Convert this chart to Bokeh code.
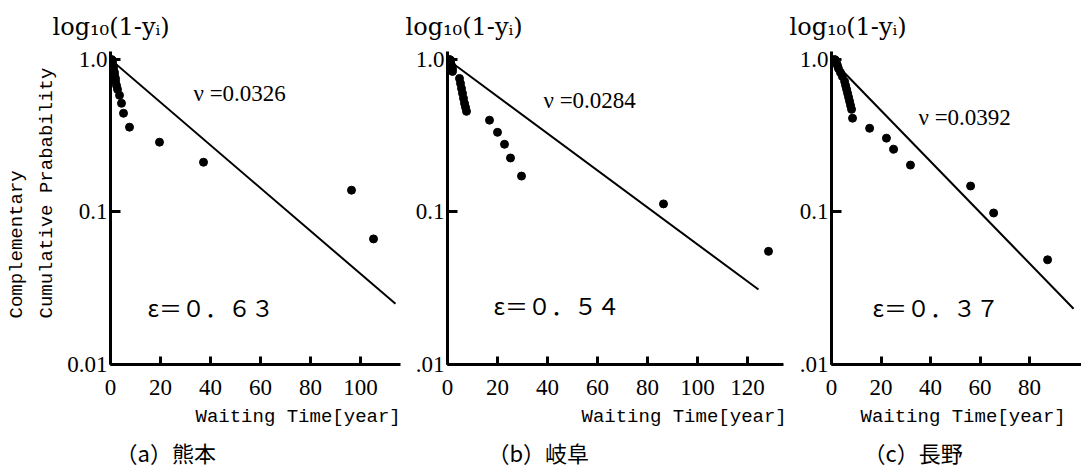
import math
from bokeh.plotting import figure
from bokeh.layouts import row
from bokeh.models import FixedTicker, Label, Title
from bokeh.embed import file_html
from bokeh.resources import INLINE

# ---------------- data ----------------
# (a) Kumamoto
a_t = [0.4, 0.8, 0.8, 1.2, 1.2, 1.6, 1.6, 2.0, 2.0, 2.4, 2.8, 3.6, 4.4, 5.2, 7.6, 19.6, 37.2, 96.4, 105.2]
a_v = [1.0, 0.985, 0.942, 0.900, 0.860, 0.822, 0.786, 0.751, 0.718, 0.676, 0.637, 0.582, 0.516, 0.444,
       0.360, 0.287, 0.212, 0.139, 0.0666]
a_fit_t = [0.0, 114.0]
a_fit_v = [1.0, 0.025]
a_nu = "ν =0.0326"
a_eps = "ε＝０．６３"
a_caption = "（a）熊本"
a_xticks = [0, 20, 40, 60, 80, 100]

# (b) Gifu
b_t = [0.8, 1.2, 1.2, 1.6, 2.0, 2.0, 4.8, 5.2, 5.6, 6.0, 6.4, 6.8, 7.2, 7.6,
       16.8, 20.0, 22.8, 25.2, 29.6, 86.4, 128.4]
b_v = [1.0, 0.99, 0.956, 0.914, 0.873, 0.835, 0.751, 0.697, 0.646, 0.600, 0.556, 0.516, 0.486, 0.457,
       0.400, 0.333, 0.278, 0.226, 0.172, 0.113, 0.0552]
b_fit_t = [0.0, 124.4]
b_fit_v = [1.0, 0.031]
b_nu = "ν =0.0284"
b_eps = "ε＝０．５４"
b_caption = "（b）岐阜"
b_xticks = [0, 20, 40, 60, 80, 100, 120]

# (c) Nagano
c_t = [1.2, 1.6, 2.0, 2.4, 2.8, 3.6, 4.4, 5.3, 5.7, 6.1, 6.5, 6.9, 7.3, 7.7, 8.1, 8.5,
       15.4, 22.2, 25.1, 31.9, 56.2, 65.5, 87.3]
c_v = [1.0, 0.99, 0.956, 0.914, 0.873, 0.822, 0.774, 0.718, 0.676, 0.637, 0.600, 0.565, 0.532, 0.500,
       0.471, 0.412, 0.354, 0.305, 0.258, 0.203, 0.148, 0.0985, 0.0486]
c_fit_t = [0.0, 97.8]
c_fit_v = [1.0, 0.0232]
c_nu = "ν =0.0392"
c_eps = "ε＝０．３７"
c_caption = "（c）長野"
c_xticks = [0, 20, 40, 60, 80]

y_ticks = [0.01, 0.1, 1.0]
y_labels_a = {0.01: "0.01", 0.1: "0.1", 1.0: "1.0"}
y_labels_bc = {0.01: ".01", 0.1: "0.1", 1.0: "1.0"}
x_label = "Waiting Time[year]"
top_label = "log₁₀(1-yᵢ)"
y_label_1 = "Complementary"
y_label_2 = "Cumulative Prabability"

H = 472
TOP = 50
BOTTOM = 108
YMAX = 1.128


def make_panel(t, v, fit_t, fit_v, nu, eps, caption, xticks, ylabels, xmax,
               width, bl, br, nu_pos, eps_pos, cap_off, xl_off, log_off):
    p = figure(width=width, height=H, x_range=(0, xmax), y_range=(0.01, YMAX),
               y_axis_type="log", output_backend="svg", toolbar_location=None,
               title_location=None,
               min_border_left=bl, min_border_right=br, min_border_top=TOP,
               min_border_bottom=BOTTOM)
    p.outline_line_color = None
    p.grid.visible = False
    p.background_fill_color = "white"
    p.border_fill_color = "white"

    for ax in (p.xaxis[0], p.yaxis[0]):
        ax.axis_line_width = 3
        ax.axis_line_color = "black"
        ax.major_tick_line_width = 3
        ax.major_tick_line_color = "black"
        ax.major_tick_out = 0
        ax.minor_tick_line_color = None
        ax.major_label_text_font = "Liberation Serif"
        ax.major_label_text_font_size = "23px"
        ax.major_label_text_color = "black"
    p.xaxis[0].ticker = FixedTicker(ticks=xticks)
    p.xaxis[0].major_tick_in = 8
    p.xaxis[0].major_label_standoff = 15
    p.yaxis[0].ticker = FixedTicker(ticks=y_ticks)
    p.yaxis[0].major_label_overrides = ylabels
    p.yaxis[0].major_tick_in = 10
    p.yaxis[0].major_label_standoff = 3

    p.line(fit_t, fit_v, line_width=2, line_color="black")
    p.scatter(t, v, size=8, fill_color="black", line_color="black")

    p.add_layout(Label(x=nu_pos[0], y=nu_pos[1], x_units="screen", y_units="screen",
                       text=nu, text_font="Liberation Serif", text_font_size="23px",
                       text_baseline="middle", text_align="left", text_color="black"))
    p.add_layout(Label(x=eps_pos[0], y=eps_pos[1], x_units="screen", y_units="screen",
                       text=eps, text_font="Noto Sans CJK JP", text_font_size="23px",
                       text_baseline="middle", text_align="left", text_color="black"))

    p.add_layout(Title(text=x_label, align="left", offset=xl_off, standoff=12,
                       text_font="Liberation Mono", text_font_size="19px",
                       text_font_style="normal", text_color="black"), "below")
    p.add_layout(Title(text=caption, align="left", offset=cap_off, standoff=0,
                       text_font="Noto Sans CJK JP", text_font_size="22px",
                       text_font_style="normal", text_color="black"), "below")
    p.add_layout(Title(text=top_label, align="left", offset=log_off, standoff=21,
                       text_font="DejaVu Serif", text_font_size="24px",
                       text_font_style="normal", text_color="black"), "above")
    return p


pa = make_panel(a_t, a_v, a_fit_t, a_fit_v, a_nu, a_eps, a_caption, a_xticks, y_labels_a, 116.0,
                405, 110, 5, (83, 271), (37, 58), 5, 85, -58)
pb = make_panel(b_t, b_v, b_fit_t, b_fit_v, b_nu, b_eps, b_caption, b_xticks, y_labels_bc, 134.4,
                384, 42, 6, (96, 264), (46, 60), 40, 134, -42)
pc = make_panel(c_t, c_v, c_fit_t, c_fit_v, c_nu, c_eps, c_caption, c_xticks, y_labels_bc, 101.0,
                292, 42, 0, (87, 247), (41, 58), 32, 29, -42)

# two-line vertical y label on the first panel (inner line added first)
pa.add_layout(Title(text=y_label_2, align="left", offset=46, standoff=13,
                    text_font="Liberation Mono", text_font_size="19px",
                    text_font_style="normal", text_color="black"), "left")
pa.add_layout(Title(text=y_label_1, align="left", offset=46, standoff=0,
                    text_font="Liberation Mono", text_font_size="19px",
                    text_font_style="normal", text_color="black"), "left")

layout = row(pa, pb, pc)
open("out.html", "w").write(file_html(layout, INLINE))
